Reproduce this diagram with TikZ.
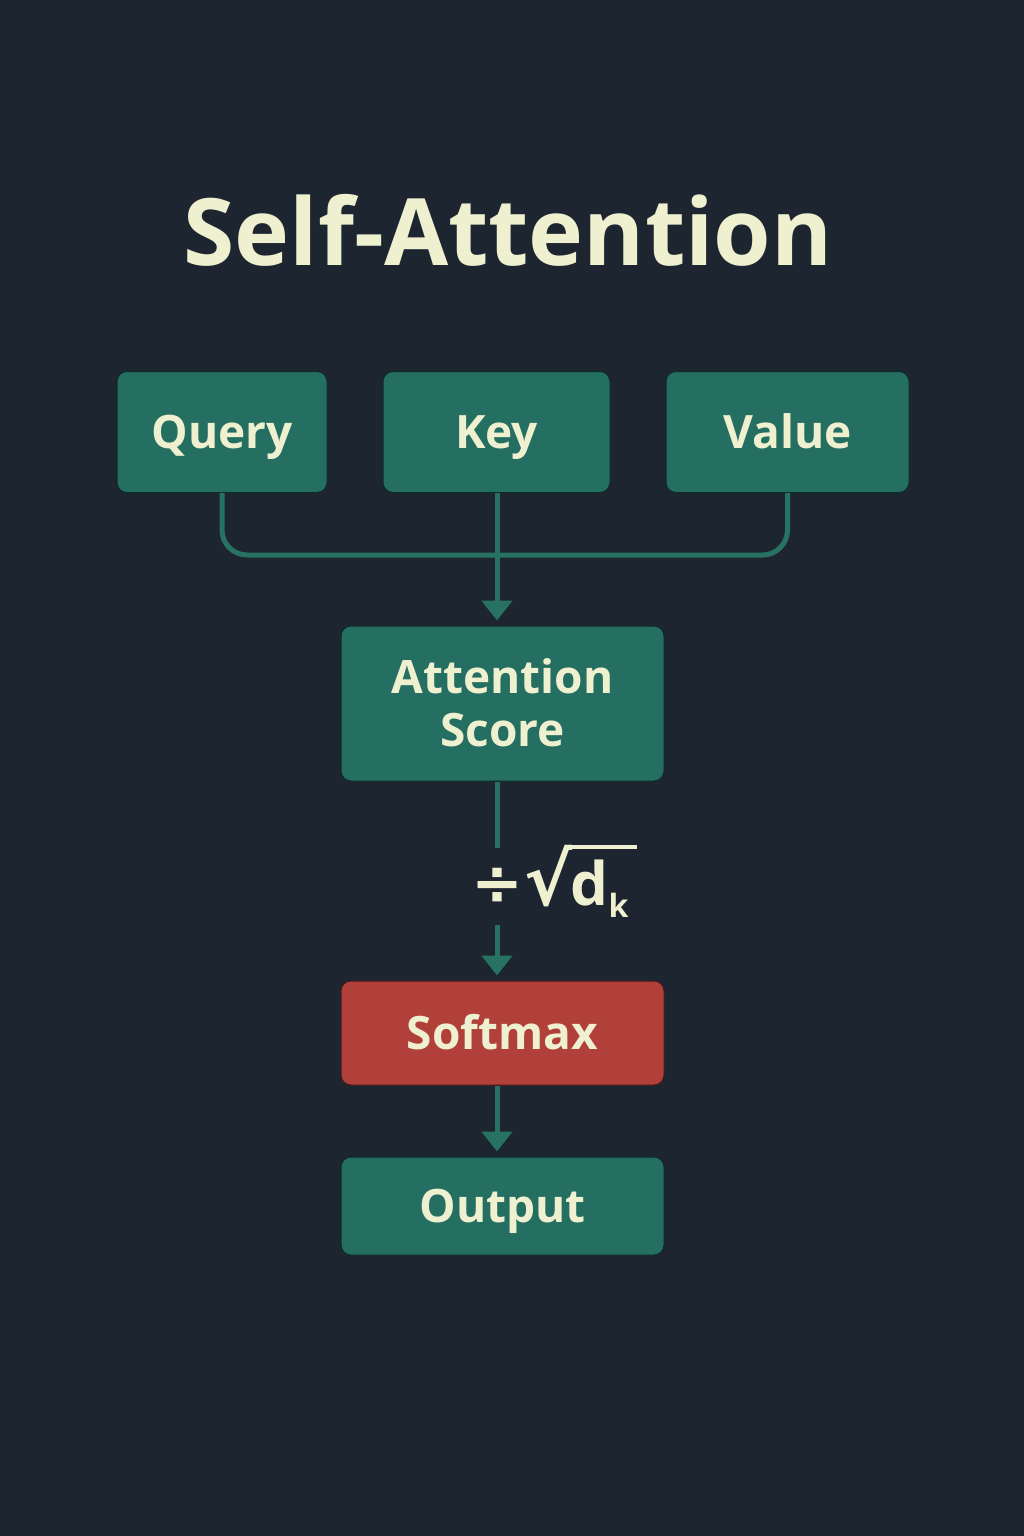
\documentclass[tikz,border=0pt]{standalone}
\usepackage{fontspec}
\setmainfont{Open Sans}
\newfontfamily\symfont{DejaVu Sans}
\usetikzlibrary{arrows.meta}
\definecolor{bgc}{HTML}{1D2530}
\definecolor{boxg}{HTML}{246F61}
\definecolor{lineg}{HTML}{277262}
\definecolor{boxr}{HTML}{B1403A}
\definecolor{txtc}{HTML}{EEF0CF}
\tikzset{
  box/.style={draw=black!60!boxg, line width=1pt, fill=boxg, rounded corners=10pt, inner sep=0pt,
    text=txtc, font=\fontsize{46}{53}\selectfont\bfseries, align=center,
    text height=33pt, text depth=0pt},
  conn/.style={draw=lineg, line width=5pt},
  arr/.style={conn, -{Triangle[width=30pt,length=20pt]}, shorten >=5pt},
}
\begin{document}
\begin{tikzpicture}[x=1pt,y=-1pt]
\fill[bgc] (0,0) rectangle (1024,1536);
\useasboundingbox (0,0) rectangle (1024,1536);
\node[text=txtc, anchor=base, inner sep=0pt, font=\fontsize{93}{100}\selectfont\bfseries] (title) at (508,265) {Self-Attention};
\node[box, minimum width=210pt, minimum height=121pt] (q) at (222,432) {Query};
\node[box, minimum width=227pt, minimum height=121pt] (k) at (496.5,432) {Key};
\node[box, minimum width=243pt, minimum height=121pt] (v) at (787.5,432) {Value};
\node[box, text height=86pt, minimum width=323pt, minimum height=155pt] (att) at (502.5,703.5) {Attention\\Score};
\node[box, fill=boxr, draw=black!60!boxr, minimum width=323pt, minimum height=104pt] (sm) at (502.5,1033) {Softmax};
\node[box, minimum width=323pt, minimum height=98pt] (out) at (502.5,1206) {Output};
\node[text=txtc, inner sep=0pt, font=\fontsize{62}{64}\selectfont\symfont\bfseries] (f) at (497,886) {÷};
\node[text=txtc, inner sep=0pt, anchor=base west, font=\fontsize{72}{72}\selectfont\symfont\bfseries] (r) at (524,905) {√};
\node[text=txtc, inner sep=0pt, anchor=base west, font=\fontsize{60}{60}\selectfont\bfseries] (d) at ([xshift=-2pt]r.base east) {d\raisebox{-12pt}{\fontsize{32}{32}\selectfont k}};
\coordinate (kx) at (497,0);
\coordinate (rs) at ([xshift=-4pt,yshift=-2pt]r.north east);
\coordinate (re) at (637,0);
\draw[txtc, line width=4pt] (rs) -- (re |- rs);
\draw[conn, rounded corners=25pt] (q.south) -- (222,555) -| (v.south);
\draw[arr] (kx |- k.south) -- (kx |- att.north);
\draw[conn] (kx |- att.south) -- (kx |- 0,848);
\draw[arr] (kx |- 0,925) -- (kx |- sm.north);
\draw[arr] (kx |- sm.south) -- (kx |- out.north);
\end{tikzpicture}
\end{document}
